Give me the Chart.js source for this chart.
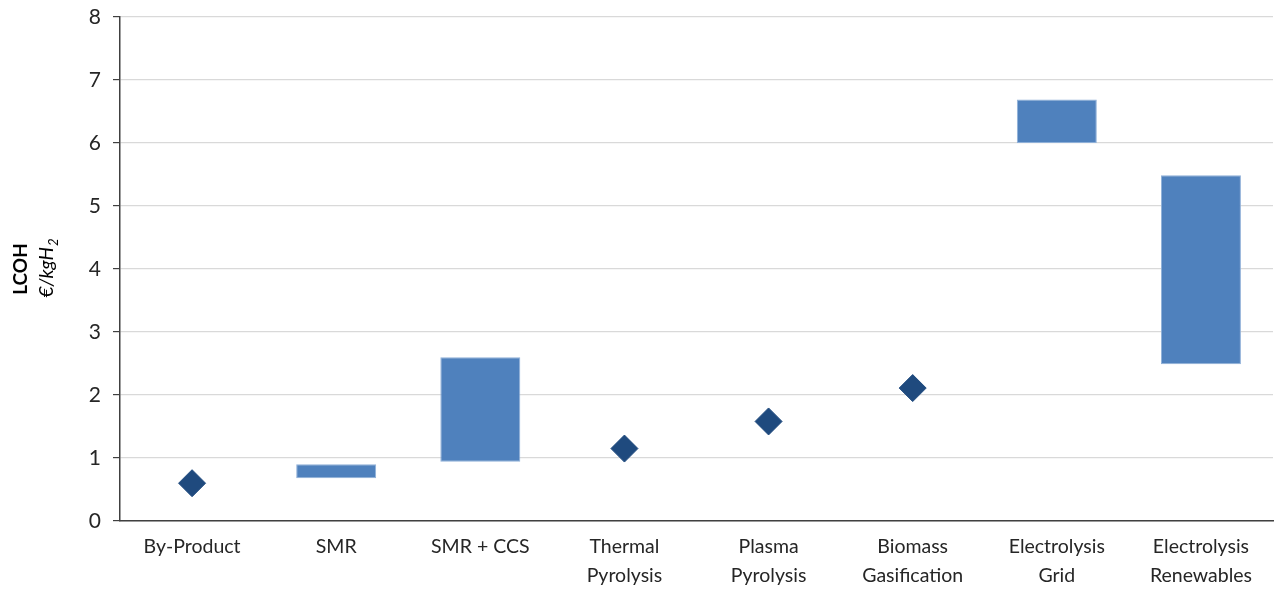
<!DOCTYPE html>
<html>
<head>
<meta charset="utf-8">
<script src="https://cdn.jsdelivr.net/npm/chart.js@4"></script>
<style>
  html, body { margin: 0; padding: 0; background: #ffffff; }
  #wrap { width: 1274px; height: 590px; position: relative; }
</style>
</head>
<body>
<div id="wrap"><canvas id="lcoh"></canvas></div>
<script>
// Production routes (x-axis categories)
const categories = [
  'By-Product', 'SMR', 'SMR + CCS', ['Thermal', 'Pyrolysis'], ['Plasma', 'Pyrolysis'],
  ['Biomass', 'Gasification'], ['Electrolysis', 'Grid'], ['Electrolysis', 'Renewables']
];
// Cost ranges (€/kgH2) shown as floating bars: [low, high]
const rangeLow  = [null, 0.68, 0.94, null, null, null, 6.00, 2.49];
const rangeHigh = [null, 0.90, 2.60, null, null, null, 6.69, 5.49];
// Single-point cost estimates (€/kgH2) shown as diamonds
const pointCost = [0.60, null, null, 1.15, 1.58, 2.11, null, null];
// Y-axis tick range
const yTicks = { min: 0, max: 8, step: 1 };

const ranges = rangeLow.map((lo, i) => (lo === null ? null : [lo, rangeHigh[i]]));

const FONT = "Lato, 'Open Sans', 'DejaVu Sans', sans-serif";

// Two-line rotated axis title: bold "LCOH" and italic "€/kgH" with subscript 2
const axisTitle = {
  id: 'axisTitle',
  afterDraw(chart) {
    const ctx = chart.ctx;
    const a = chart.chartArea;
    const cy = (a.top + a.bottom) / 2;
    ctx.save();
    ctx.fillStyle = '#000000';
    ctx.textBaseline = 'alphabetic';

    ctx.save();
    ctx.translate(27, cy);
    ctx.rotate(-Math.PI / 2);
    ctx.textAlign = 'center';
    ctx.font = 'bold 19px ' + FONT;
    ctx.fillText('LCOH', 0, 0);
    ctx.restore();

    ctx.save();
    ctx.translate(53, cy - 1);
    ctx.rotate(-Math.PI / 2);
    ctx.textAlign = 'left';
    const main = '€/kgH', sub = '2';
    ctx.font = 'italic 19px ' + FONT;
    const wMain = ctx.measureText(main).width;
    ctx.font = 'italic 13px ' + FONT;
    const wSub = ctx.measureText(sub).width;
    const start = -(wMain + 1 + wSub) / 2;
    ctx.font = 'italic 19px ' + FONT;
    ctx.fillText(main, start, 0);
    ctx.font = 'italic 13px ' + FONT;
    ctx.fillText(sub, start + wMain + 1, 5);
    ctx.restore();

    ctx.restore();
  }
};

const chart = new Chart(document.getElementById('lcoh'), {
  type: 'bar',
  data: {
    labels: categories,
    datasets: [
      {
        type: 'bar',
        label: 'Range',
        data: ranges,
        backgroundColor: '#4F81BD',
        borderColor: '#8FB0D8',
        borderWidth: 1,
        borderSkipped: false,
        categoryPercentage: 1.0,
        barPercentage: 0.555,
        order: 2
      },
      {
        type: 'line',
        label: 'Estimate',
        data: pointCost,
        showLine: false,
        borderWidth: 0,
        pointStyle: 'rectRot',
        pointRadius: 13.5,
        pointHoverRadius: 13.5,
        pointBackgroundColor: '#1F4A7E',
        pointBorderColor: '#1F4A7E',
        pointBorderWidth: 1,
        clip: false,
        order: 1
      }
    ]
  },
  options: {
    responsive: true,
    maintainAspectRatio: false,
    animation: false,
    layout: { padding: { top: 17, right: 1, left: 0, bottom: 0 } },
    plugins: {
      legend: { display: false },
      tooltip: { enabled: false }
    },
    scales: {
      x: {
        grid: { display: false },
        border: { display: true, color: '#404040', width: 1.5 },
        ticks: {
          color: '#262626',
          font: { family: FONT, size: 19.5, lineHeight: 1.45 },
          padding: 4,
          maxRotation: 0,
          autoSkip: false
        },
        afterFit(scale) {
          scale.height = 69;
          scale.paddingLeft = 0;
          scale.paddingRight = 0;
        }
      },
      y: {
        min: yTicks.min,
        max: yTicks.max,
        ticks: {
          stepSize: yTicks.step,
          color: '#262626',
          font: { family: FONT, size: 21 },
          padding: 12
        },
        grid: {
          color: '#D9D9D9',
          lineWidth: 1.2,
          tickColor: '#404040',
          tickLength: 7,
          tickWidth: 1.2
        },
        border: { display: true, color: '#404040', width: 1.5 },
        afterFit(scale) {
          scale.width = 120;
          scale.paddingTop = 0;
          scale.paddingBottom = 0;
        }
      }
    }
  },
  plugins: [axisTitle]
});

// Diamond markers sit well inside the plot, so no extra edge room is reserved for them
chart.getDatasetMeta(1).controller.getMaxOverflow = () => 0;
chart.update();
</script>
</body>
</html>
